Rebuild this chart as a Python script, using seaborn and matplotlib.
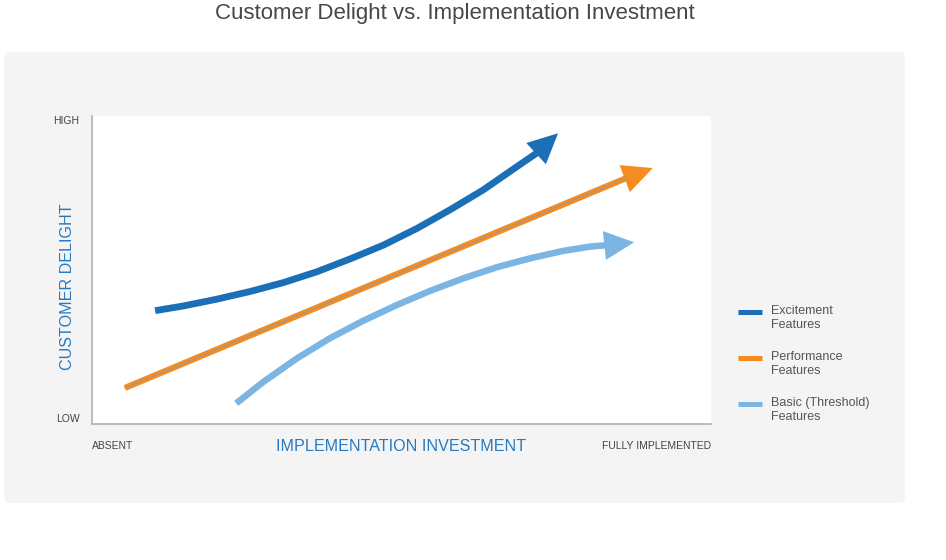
import numpy as np
import pandas as pd
import seaborn as sns
import matplotlib.pyplot as plt
from matplotlib.patches import FancyBboxPatch, FancyArrowPatch
from matplotlib.lines import Line2D
from matplotlib.legend_handler import HandlerLine2D

# curve points (x: investment 0-10, y: delight 0-10)
# last point of each series is the arrow tip
exc_x = [1.02, 1.47, 2.01, 2.55, 3.09, 3.63, 4.17, 4.71, 5.25, 5.78, 6.32, 6.86, 7.18, 7.53]
exc_y = [3.68, 3.83, 4.05, 4.30, 4.59, 4.94, 5.36, 5.81, 6.35, 6.95, 7.60, 8.35, 8.79, 9.44]
perf_x = [0.53, 8.65, 9.06]
perf_y = [1.17, 8.00, 8.31]
basic_x = [2.33, 2.77, 3.31, 3.84, 4.38, 4.92, 5.46, 6.00, 6.54, 7.08, 7.61, 8.05, 8.34, 8.76]
basic_y = [0.67, 1.37, 2.13, 2.78, 3.35, 3.86, 4.32, 4.73, 5.09, 5.38, 5.62, 5.76, 5.81, 5.90]

series = ['Excitement\nFeatures', 'Performance\nFeatures', 'Basic (Threshold)\nFeatures']
colors = ['#1b6fb6', '#f68b1f', '#7bb5e4']
widths = [4.9, 4.4, 4.7]
x_ticklabels = ['ABSENT', 'FULLY IMPLEMENTED']
y_ticklabels = ['LOW', 'HIGH']

sns.set_style('white')
plt.rcParams['font.family'] = ['Liberation Sans', 'DejaVu Sans']

fig = plt.figure(figsize=(9.46, 5.6), dpi=100)
fig.patch.set_facecolor('white')

# grey card behind the chart
card = FancyBboxPatch((0.04, 0.57), 9.01, 4.51, boxstyle='round,pad=0,rounding_size=0.06',
                      transform=fig.dpi_scale_trans, facecolor='#f4f4f4', edgecolor='none', zorder=-1)
fig.add_artist(card)

ax = fig.add_axes([92/946, 136/560, 619/946, 308/560])
ax.set_facecolor('white')

data = [(exc_x, exc_y), (perf_x, perf_y), (basic_x, basic_y)]
for (xs, ys), c, w in zip(data, colors, widths):
    df = pd.DataFrame({'x': xs[:-1], 'y': ys[:-1]})
    sns.lineplot(data=df, x='x', y='y', sort=False, color=c, lw=w, ax=ax,
                 solid_capstyle='butt', solid_joinstyle='round', legend=False)
    # arrow head from last line point to the tip
    head = FancyArrowPatch((xs[-2], ys[-2]), (xs[-1], ys[-1]),
                           arrowstyle='-|>,head_length=1.08,head_width=0.52',
                           mutation_scale=20, color=c, lw=0, shrinkA=0, shrinkB=0)
    ax.add_patch(head)

# thin grey core in the performance line
sns.lineplot(x=perf_x[:-1], y=perf_y[:-1], sort=False, color='#9a9a9a', lw=0.8, ax=ax, legend=False)

ax.set_xlim(0, 10)
ax.set_ylim(0, 10)
sns.despine(ax=ax)
for s in ['left', 'bottom']:
    ax.spines[s].set_color('#b0b0b0')
    ax.spines[s].set_linewidth(1.2)

ax.set_xticks([0, 10], x_ticklabels)
ax.set_yticks([0, 10], y_ticklabels)
ax.tick_params(axis='both', length=0, labelsize=7.5, labelcolor='#444444')
ax.tick_params(axis='x', pad=12)
ax.tick_params(axis='y', pad=9)
xl = ax.get_xticklabels()
xl[0].set_ha('left')
xl[1].set_ha('right')
yl = ax.get_yticklabels()
yl[0].set_va('bottom')
yl[1].set_va('top')

ax.set_xlabel('IMPLEMENTATION INVESTMENT', fontsize=11.6, color='#2779c1')
ax.xaxis.set_label_coords(0.5, -0.05)
ax.set_ylabel('CUSTOMER DELIGHT', fontsize=11.6, color='#2779c1')
ax.yaxis.set_label_coords(-0.028, 0.446)

fig.text(455/946, 1 - 13/560, 'Customer Delight vs. Implementation Investment',
         ha='center', va='center', fontsize=16, color='#474747')


class RaisedLine(HandlerLine2D):
    # put the swatch beside the first text line
    def create_artists(self, legend, orig_handle, xdescent, ydescent, width, height, fontsize, trans):
        arts = super().create_artists(legend, orig_handle, xdescent, ydescent, width, height, fontsize, trans)
        for a in arts:
            a.set_ydata(np.asarray(a.get_ydata()) + 0.5 * fontsize)
        return arts


handles = [Line2D([], [], color=c, lw=3.6, solid_capstyle='butt') for c in colors]
leg = ax.legend(handles, series, loc='center left', bbox_to_anchor=((738 - 92) / 619, (424 - 364) / 308),
                frameon=False, fontsize=9, labelcolor='#555555', borderpad=0, borderaxespad=0,
                handlelength=1.92, handletextpad=0.72, labelspacing=1.6,
                handler_map={Line2D: RaisedLine()})

fig.savefig('out.png', dpi=100)
